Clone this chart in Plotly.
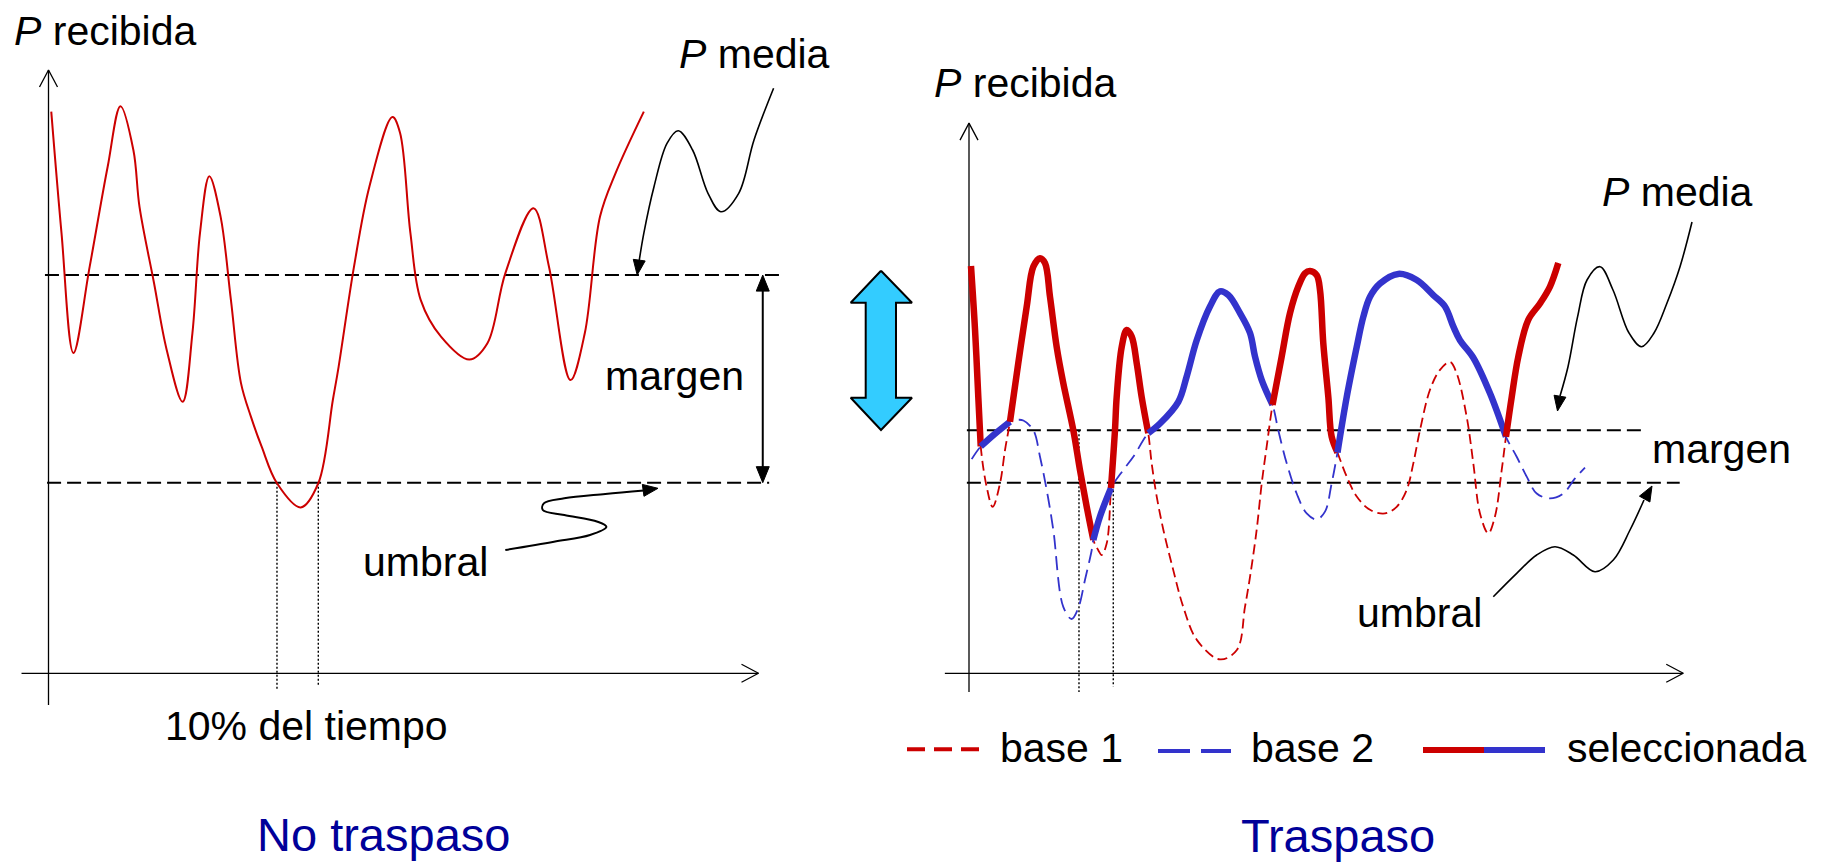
import math
import plotly.graph_objects as go

# ============================ DATA ============================
# Left panel "No traspaso": received power (arbitrary units) versus time
left_t = [0.39, 1.83, 3.51, 5.80, 8.34, 10.14, 11.96, 12.82, 14.86, 16.65, 18.89, 20.27,
          21.34, 22.65, 24.24, 25.70, 27.11, 28.52, 30.01, 32.18, 35.52, 38.0, 40.05, 40.86,
          43.03, 45.20, 48.44, 49.51, 50.97, 52.42, 55.28, 59.28, 61.82, 64.34, 68.31, 70.49,
          73.52, 75.54, 77.68, 79.87, 83.85]
left_p = [93.1, 73.0, 53.1, 67.4, 84.0, 94.0, 86.7, 77.3, 64.7, 53.6, 45.0, 56.4,
          73.0, 82.4, 75.7, 61.8, 48.1, 42.5, 37.6, 31.5, 27.5, 31.5, 45.3, 50.8,
          67.4, 80.7, 92.2, 89.6, 73.0, 61.9, 55.8, 52.0, 54.7, 66.3, 77.1, 67.4,
          48.6, 56.4, 75.7, 82.9, 93.1]
left_p_media = 66.0
left_umbral = 31.6
left_cross_t = [32.18, 38.0]          # "10% del tiempo"

# Right panel "Traspaso": base station 1 and base station 2
base1_t = [0.28, 0.85, 1.31, 1.65, 2.49, 3.34, 4.37, 5.07, 5.77, 6.94, 8.13, 9.06, 10.0,
           10.70, 11.41, 12.35, 13.28, 14.69, 15.63, 16.58, 17.51, 18.21, 18.69, 19.39,
           20.0, 20.56, 20.80, 21.51, 22.21, 22.92, 23.62, 24.32, 25.25, 25.73, 26.44,
           27.37, 28.77, 30.18, 32.11, 35.35, 37.75, 38.87, 39.58, 40.52, 41.23, 41.93,
           42.75, 44.04, 45.21, 46.38, 47.32, 48.03, 48.97, 49.44, 49.90, 50.61, 51.08,
           51.90, 53.20, 54.61, 56.48, 58.59, 60.24, 61.65, 62.58, 63.52, 64.93, 66.34,
           67.75, 68.69, 70.10, 71.03, 71.97, 73.14, 74.08, 75.03, 75.63, 76.44, 77.37,
           78.77, 80.42, 81.83, 83.0]
base1_p = [67.5, 56.9, 45.8, 37.6, 30.9, 27.6, 31.5, 37.0, 41.7, 51.4, 60.8, 67.4, 68.8,
           68.0, 62.4, 54.1, 48.1, 40.3, 33.7, 27.6, 22.1, 20.4, 19.6, 21.5,
           30.7, 40.3, 45.8, 54.1, 56.9, 55.8, 51.4, 45.8, 39.8, 34.8, 29.3,
           23.8, 17.1, 11.0, 5.5, 2.3, 3.9, 11.0, 16.0, 23.8, 31.5, 37.6,
           44.5, 52.5, 59.7, 64.1, 66.3, 66.7, 66.0, 63.5, 54.7, 45.8, 39.2,
           36.6, 32.6, 29.3, 27.1, 26.5, 27.6, 30.4, 34.8, 40.3, 47.0, 50.3,
           51.6, 49.7, 42.5, 34.8, 26.5, 23.2, 26.0, 33.7, 39.2, 45.8, 52.5,
           58.6, 61.3, 64.1, 68.0]
base2_t = [0.38, 1.65, 3.66, 5.77, 6.72, 7.65, 9.06, 10.0, 10.94, 11.87, 13.28, 14.46,
           15.39, 16.34, 17.28, 17.51, 18.45, 20.0, 21.73, 23.14, 25.25, 26.90, 29.48,
           30.66, 32.07, 33.94, 35.35, 36.52, 38.17, 39.58, 40.28, 41.23, 42.75, 43.56,
           44.75, 46.15, 47.56, 48.97, 50.14, 51.08, 51.90, 53.20, 54.61, 55.54, 56.48,
           57.89, 60.46, 63.06, 65.39, 67.04, 68.21, 69.15, 71.03, 73.38, 75.63, 77.14,
           78.55, 79.96, 81.83, 83.70, 85.35, 86.76]
base2_p = [35.5, 37.6, 39.7, 41.7, 42.0, 41.9, 40.3, 35.9, 30.4, 23.8, 11.0, 9.0,
           10.8, 15.5, 20.4, 22.1, 26.0, 30.7, 33.7, 35.9, 39.8, 41.4, 45.0,
           49.2, 55.2, 60.8, 63.3, 62.7, 59.7, 56.4, 52.5, 48.6, 44.5, 40.3,
           34.8, 29.8, 26.5, 25.5, 26.8, 31.5, 36.6, 45.8, 54.1, 59.1, 62.4,
           64.6, 66.2, 65.2, 62.7, 60.8, 57.5, 55.2, 52.3, 46.4, 39.2, 35.9,
           32.6, 29.8, 29.0, 29.8, 32.3, 34.1]
selected_segments = [("base 1", 0.28, 1.65), ("base 2", 1.65, 5.77), ("base 1", 5.77, 17.51),
                     ("base 2", 17.51, 20.0), ("base 1", 20.0, 25.25), ("base 2", 25.25, 42.75),
                     ("base 1", 42.75, 51.90), ("base 2", 51.90, 75.63), ("base 1", 75.63, 83.0)]
right_p_media = 40.3
right_umbral = 31.6
right_cross_t = [15.49, 20.32]

# ============================ LAYOUT CONSTANTS ============================
W, H = 1827, 862
OFF = 8                               # default page body margin
PX_T, PX_P = 7.10, 6.033             # pixels per time unit / per power unit
X0L, X0R, Y0 = 48.5, 969.0, 673.3     # pixel origin of left panel, right panel
RED, BLUE, NAVY, SKY = "#CC0000", "#3333CC", "#000099", "#33CCFF"
FONT = "Liberation Sans, Arial, sans-serif"

def xl(t): return X0L + t * PX_T
def xr(t): return X0R + t * PX_T
def yp(p): return Y0 - p * PX_P

LEFT, RIGHT, PIX = ("x2", "y2"), ("x3", "y2"), ("x", "y")
fig = go.Figure()

def line(x, y, ax, color="black", width=1.3, dash="solid", shape="linear",
         fill=None, fillcolor=None):
    fig.add_trace(go.Scatter(x=x, y=y, xaxis=ax[0], yaxis=ax[1], mode="lines",
                             line=dict(color=color, width=width, dash=dash, shape=shape,
                                       smoothing=1.0),
                             fill=fill, fillcolor=fillcolor, hoverinfo="skip",
                             showlegend=False))

def head(tip, frm, length=15, width=12):
    dx, dy = tip[0] - frm[0], tip[1] - frm[1]
    n = math.hypot(dx, dy)
    ux, uy = dx / n, dy / n
    bx, by = tip[0] - ux * length, tip[1] - uy * length
    qx, qy = -uy * width / 2, ux * width / 2
    xs = [tip[0], bx + qx, bx - qx, tip[0]]
    ys = [tip[1], by + qy, by - qy, tip[1]]
    line(xs, ys, PIX, width=1, fill="toself", fillcolor="black")

def axes(ax, ymin, ymax, xmin, xmax):
    line([0, 0], [ymin, ymax], ax, width=1.3)
    line([xmin, xmax], [0, 0], ax, width=1.3)
    a_t, a_p = 17 / PX_T, 17 / PX_P
    h_t, h_p = 9 / PX_T, 9 / PX_P
    line([-h_t, 0, h_t], [ymax - a_p, ymax, ymax - a_p], ax, width=1.3)
    line([xmax - a_t, xmax, xmax - a_t], [h_p, 0, -h_p], ax, width=1.3)

# ---------------- left panel ----------------
axes(LEFT, -5.25, 100, -3.8, 100)
line([-0.5, 103.0], [left_p_media] * 2, LEFT, width=2, dash="14px,6px")
line([-0.2, 101.5], [left_umbral] * 2, LEFT, width=2, dash="14px,6px")
line([left_cross_t[0]] * 2, [left_umbral, -2.9], LEFT, width=1.4, dash="2px,2px")
line([left_cross_t[1]] * 2, [left_umbral, -2.1], LEFT, width=1.4, dash="2px,2px")
line(left_t, left_p, LEFT, color=RED, width=2, shape="spline")

# margen arrow (left)
mx = xl(100.6)
line([mx, mx], [yp(left_p_media) + 12, yp(left_umbral) - 12], PIX, width=2)
head((mx, yp(left_p_media)), (mx, yp(left_p_media) + 20), 16, 13)
head((mx, yp(left_umbral)), (mx, yp(left_umbral) - 20), 16, 13)

# ---------------- right panel ----------------
axes(RIGHT, -3.1, 91.2, -3.4, 100.6)
line([-0.3, 95.0], [right_p_media] * 2, RIGHT, width=2, dash="14px,6px")
line([-0.3, 100.1], [right_umbral] * 2, RIGHT, width=2, dash="14px,6px")
line([right_cross_t[0]] * 2, [right_p_media, -3.1], RIGHT, width=1.4, dash="2px,2px")
line([right_cross_t[1]] * 2, [right_p_media, -2.2], RIGHT, width=1.4, dash="2px,2px")
line(base1_t, base1_p, RIGHT, color=RED, width=1.8, dash="10px,5px", shape="spline")
line(base2_t, base2_p, RIGHT, color=BLUE, width=1.8, dash="14px,7px", shape="spline")
series = {"base 1": (base1_t, base1_p, RED), "base 2": (base2_t, base2_p, BLUE)}
for name, t0, t1 in selected_segments:
    ts, ps, col = series[name]
    seg = [(t, p) for t, p in zip(ts, ps) if t0 - 1e-9 <= t <= t1 + 1e-9]
    line([s[0] for s in seg], [s[1] for s in seg], RIGHT, color=col, width=6.5,
         shape="spline")

# ---------------- decorations (pixel space) ----------------
# blue double arrow
bx = [881, 912, 896, 896, 912, 881, 850.7, 865.7, 865.7, 850.7, 881]
by = [270.7, 302.7, 302.7, 397.7, 397.7, 430, 397.7, 397.7, 302.7, 302.7, 270.7]
line(bx, by, PIX, width=2, fill="toself", fillcolor=SKY)

# pointers
pm_l = [(773.6, 88.3), (754, 140), (738.7, 193.3), (720.8, 211.7), (708, 193.3),
        (692.6, 150), (678.2, 130.7), (667, 143.3), (654, 186.7), (643.8, 233.3),
        (639, 262)]
line([p[0] for p in pm_l], [p[1] for p in pm_l], PIX, width=1.6, shape="spline")
head((637.2, 275), (639.5, 258))

um_l = [(505.3, 550), (554, 541.7), (590, 535), (606.4, 526.7), (597.6, 521.7),
        (564.3, 515), (542.8, 510), (543.8, 503.3), (564.3, 498.3), (605.3, 494),
        (644, 490.5)]
line([p[0] for p in um_l], [p[1] for p in um_l], PIX, width=2, shape="spline")
head((658, 488.3), (640, 490.8))

pm_r = [(1692, 222), (1680, 266.7), (1667, 303), (1654, 333), (1641.5, 346.7),
        (1629, 333), (1613, 290), (1600, 266.7), (1587, 280), (1577.6, 316.7),
        (1568, 366.7), (1560, 396)]
line([p[0] for p in pm_r], [p[1] for p in pm_r], PIX, width=1.6, shape="spline")
head((1557.5, 411), (1561, 390))

um_r = [(1493.3, 596.7), (1516.7, 573.3), (1536.7, 555), (1555, 546.7), (1573.3, 555),
        (1595, 571.7), (1613.3, 560), (1630, 530), (1644, 500)]
line([p[0] for p in um_r], [p[1] for p in um_r], PIX, width=1.6, shape="spline")
head((1652, 486), (1643, 502))

# legend samples
line([907, 980], [749.3, 749.3], PIX, color=RED, width=4, dash="18px,9px")
line([1158, 1231], [751, 751], PIX, color=BLUE, width=4, dash="32px,11px")
line([1423, 1484], [750, 750], PIX, color=RED, width=6)
line([1484, 1545], [750, 750], PIX, color=BLUE, width=6)

# ---------------- texts ----------------
texts = [
    ("<i>P</i> recibida", 12, 31, 41, "black"),
    ("<i>P</i> media", 677, 54, 41, "black"),
    ("margen", 603, 376, 41, "black"),
    ("umbral", 361, 561.5, 41, "black"),
    ("10% del tiempo", 163, 726, 41, "black"),
    ("No traspaso", 255, 834.5, 47, NAVY),
    ("<i>P</i> recibida", 932, 82.5, 41, "black"),
    ("<i>P</i> media", 1600, 192, 41, "black"),
    ("margen", 1650, 449, 41, "black"),
    ("umbral", 1355, 612.5, 41, "black"),
    ("base 1", 998, 747.5, 41, "black"),
    ("base 2", 1249, 747.5, 41, "black"),
    ("seleccionada", 1565, 747.5, 41, "black"),
    ("Traspaso", 1239, 835.7, 47, NAVY),
]
ann = [dict(text=t, x=x, y=y, xref="x", yref="y", xanchor="left", yanchor="middle",
            showarrow=False, font=dict(family=FONT, size=s, color=c))
       for t, x, y, s, c in texts]

fig.update_layout(
    width=W - OFF, height=H - OFF, margin=dict(l=0, r=0, t=0, b=0, pad=0), autosize=False,
    paper_bgcolor="white", plot_bgcolor="white", showlegend=False,
    xaxis=dict(range=[OFF, W], domain=[0, 1], visible=False, fixedrange=True),
    yaxis=dict(range=[H, OFF], domain=[0, 1], visible=False, fixedrange=True),
    xaxis2=dict(range=[(OFF - X0L) / PX_T, (W - X0L) / PX_T], overlaying="x",
                visible=False, fixedrange=True),
    xaxis3=dict(range=[(OFF - X0R) / PX_T, (W - X0R) / PX_T], overlaying="x",
                visible=False, fixedrange=True),
    yaxis2=dict(range=[(Y0 - H) / PX_P, (Y0 - OFF) / PX_P], overlaying="y",
                visible=False, fixedrange=True),
    annotations=ann,
)
fig.write_html("out.html", config={"displayModeBar": False})
